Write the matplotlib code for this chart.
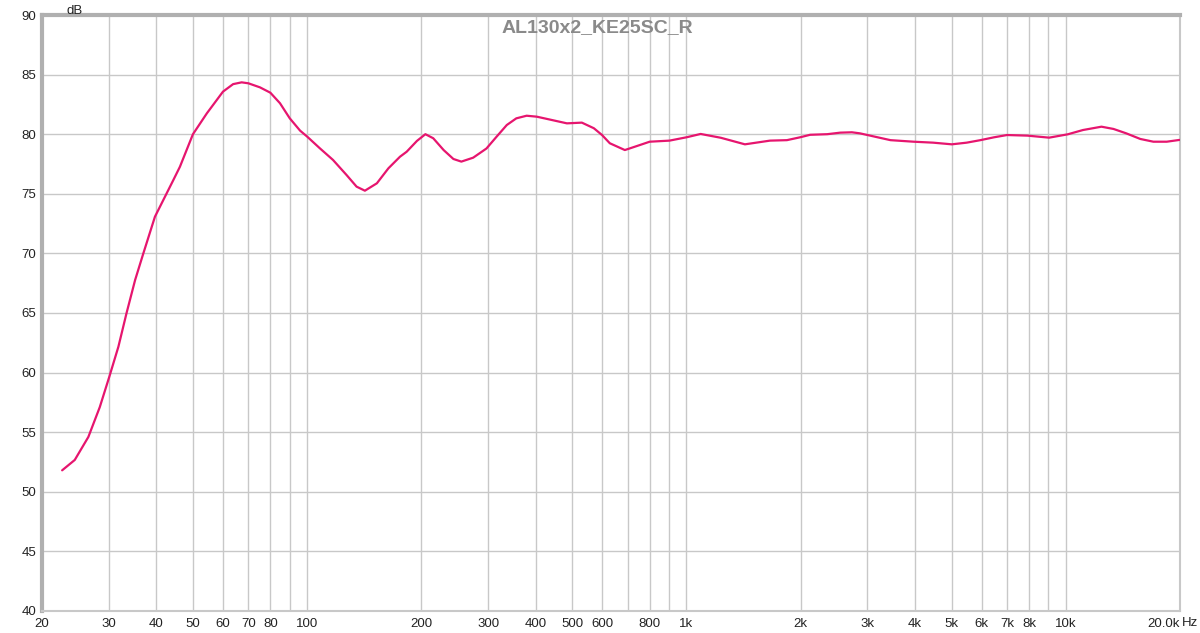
## Frequency response plot, REW style
import numpy as np
import matplotlib.pyplot as plt
from matplotlib.ticker import FixedLocator, NullLocator

# Data (Hz, dB)
freq = [22.6, 24.4, 26.5, 28.4, 30.1, 31.8, 33.4, 35.2, 37.0, 39.7, 44.4, 46.2,
        50.0, 54.4, 60.0, 63.8, 67.2, 70.0, 75.1, 80.0, 84.8, 90.0, 95.8, 100,
        108, 117, 127, 135, 142, 152.7, 163.8, 175.7, 183, 194.8, 205, 215, 229,
        243, 255, 274, 297, 316, 336, 356, 379, 403, 429, 484, 530, 570, 599,
        628, 688, 739, 800, 902, 1000, 1090, 1232, 1426, 1660, 1840, 1993, 2118,
        2350, 2544, 2730, 2868, 3050, 3450, 3970, 4470, 5006, 5480, 5955, 6470,
        7000, 7920, 9040, 10120, 11100, 12420, 13360, 14440, 15720, 17020,
        18460, 19940]
spl = [51.8, 52.67, 54.6, 57.1, 59.66, 62.17, 64.97, 67.77, 70.0, 73.08, 76.16, 77.27,
       80.0, 81.75, 83.57, 84.2, 84.35, 84.27, 83.93, 83.48, 82.6, 81.33, 80.3, 79.8,
       78.82, 77.84, 76.58, 75.6, 75.26, 75.88, 77.14, 78.11, 78.53, 79.44, 80.0, 79.66,
       78.67, 77.92, 77.7, 78.03, 78.8, 79.8, 80.77, 81.33, 81.55, 81.47, 81.28, 80.91,
       80.97, 80.5, 79.93, 79.24, 78.67, 79.0, 79.37, 79.46, 79.74, 80.02, 79.7, 79.15,
       79.46, 79.5, 79.74, 79.95, 80.0, 80.13, 80.16, 80.07, 79.88, 79.5, 79.37, 79.29,
       79.15, 79.29, 79.5, 79.74, 79.93, 79.88, 79.71, 79.99, 80.35, 80.63, 80.44,
       80.07, 79.6, 79.37, 79.37, 79.52]

title = 'AL130x2_KE25SC_R'
xgrid = [30, 40, 50, 60, 70, 80, 90, 100, 200, 300, 400, 500, 600, 700, 800, 900,
         1000, 2000, 3000, 4000, 5000, 6000, 7000, 8000, 9000, 10000]
xticks = [20, 30, 40, 50, 60, 70, 80, 100, 200, 300, 400, 500, 600, 800,
          1000, 2000, 3000, 4000, 5000, 6000, 7000, 8000, 10000, 20000]
xlabels = ['20', '30', '40', '50', '60', '70', '80', '100', '200', '300', '400',
           '500', '600', '800', '1k', '2k', '3k', '4k', '5k', '6k', '7k', '8k',
           '10k', '20.0k']
yticks = [40, 45, 50, 55, 60, 65, 70, 75, 80, 85, 90]

plt.rcParams['font.family'] = ['Liberation Sans', 'DejaVu Sans']

# Setting up figure
fig = plt.figure(figsize=(12, 6.33), dpi=100)
ax = fig.add_axes([0.035, 0.0348, 0.9483, 0.9415])

ax.set_xscale('log')
ax.set_xlim(20, 20000)
ax.set_ylim(40, 90)

# grid lines
for g in xgrid:
    ax.axvline(g, color='#c8c8c8', lw=1, zorder=1)
for g in yticks[1:-1]:
    ax.axhline(g, color='#c8c8c8', lw=1, zorder=1)

ax.plot(freq, spl, color='#e6156e', lw=1.6, zorder=3,
        solid_capstyle='round', solid_joinstyle='round')

ax.xaxis.set_major_locator(FixedLocator(xticks))
ax.xaxis.set_minor_locator(NullLocator())
ax.set_xticklabels(xlabels)
ax.get_xticklabels()[-1].set_ha('right')
ax.set_yticks(yticks)
ax.tick_params(axis='both', length=0, labelsize=9.5, colors='#222222')
ax.tick_params(axis='x', pad=5)
ax.tick_params(axis='y', pad=4)

for s in ['left', 'top']:
    ax.spines[s].set_color('#b0b0b0')
    ax.spines[s].set_linewidth(3)
for s in ['right', 'bottom']:
    ax.spines[s].set_color('#c8c8c8')
    ax.spines[s].set_linewidth(1.5)

fig.text(0.0625, 0.992, 'dB', ha='center', va='top', fontsize=9.5, color='#222222')
fig.text(0.9985, 0.016, 'Hz', ha='right', va='center', fontsize=9.5, color='#222222')
fig.text(0.498, 0.957, title, ha='center', va='center', fontsize=14,
         fontweight='bold', color='#8a8a8a')

fig.savefig('out.png', dpi=100)
